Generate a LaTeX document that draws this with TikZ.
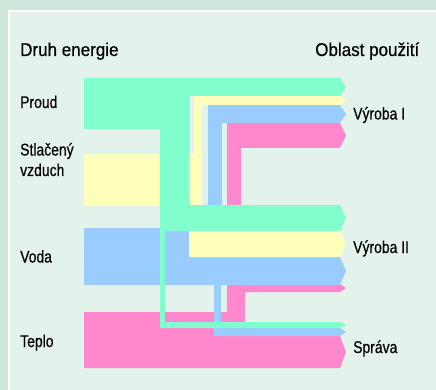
\documentclass[tikz,border=0pt]{standalone}
\usepackage{fontspec}
\setmainfont{Liberation Sans}[FakeStretch=0.82, FakeBold=0.5]
\newfontfamily\headfont{Liberation Sans}[FakeStretch=0.92, FakeBold=0.5]
\usepackage{tikz}
\usetikzlibrary{positioning}

\definecolor{okraj}{RGB}{204,230,218}
\definecolor{plocha}{RGB}{228,242,236}
\definecolor{proudc}{RGB}{128,255,204}
\definecolor{vzduchc}{RGB}{255,255,187}
\definecolor{vodac}{RGB}{153,204,255}
\definecolor{teploc}{RGB}{255,136,204}

% band running to the right edge, with a chevron tip
\newcommand{\flowband}[4]{%
  \fill[#1] (#2,#3) -- (340,#3) -- (346,{(#3+#4)/2}) -- (340,#4) -- (#2,#4) -- cycle;}

\begin{document}
\begin{tikzpicture}[x=1pt, y=-1pt]
\tikzstyle{heading}=[font=\headfont\fontsize{18.5}{21}\selectfont, inner sep=0pt]
\tikzstyle{source}=[font=\fontsize{17}{20.5}\selectfont, inner sep=0pt,
  align=left]
\tikzstyle{target}=[font=\fontsize{17}{20.5}\selectfont, inner sep=0pt]

% frame
\useasboundingbox (0,0) rectangle (436,390);
\fill[okraj] (0,0) rectangle (436,390);
\fill[white] (8,10) rectangle (436,390);
\fill[plocha] (10,12) rectangle (436,390);

% teplo
\fill[teploc] (84,312) rectangle (245,336);
\flowband{teploc}{84}{336}{368}
\fill[teploc] (227,284) rectangle (245,312);
\flowband{teploc}{227}{284}{292}
\fill[teploc] (227,123) rectangle (241,290);
\flowband{teploc}{227}{123}{148}

% voda
\fill[vodac] (84,228) rectangle (340,257);
\flowband{vodac}{84}{257}{285}
\fill[vodac] (208,105) rectangle (222,228);
\flowband{vodac}{208}{105}{123}
\fill[vodac] (214,285) rectangle (221,336);
\flowband{vodac}{214}{328}{336}

% stlačený vzduch
\fill[vzduchc] (84,154) rectangle (202,206);
\fill[vzduchc] (194,96) rectangle (202,154);
\flowband{vzduchc}{194}{96}{105}
\flowband{vzduchc}{189}{231}{257}

% proud
\fill[proudc] (84,78) rectangle (160,129);
\fill[proudc] (160,78) rectangle (189,231);
\flowband{proudc}{84}{78}{96}
\flowband{proudc}{160}{205}{231}
\fill[proudc] (160,231) rectangle (165,328);
\flowband{proudc}{160}{322}{328}

% headings
\node[heading, anchor=base west](druh) at (20,56){Druh energie};
\node[heading, anchor=base east](oblast) at (419.5,56){Oblast použití};

% sources
\node[source, anchor=base west](proud) at (20,108){Proud};
\node[source, anchor=base west](vzduch) at (20,176){Stlačený\\vzduch};
\node[source, anchor=base west](voda) at (20,262.5){Voda};
\node[source, anchor=base west](teplo) at (20,347){Teplo};

% targets
\node[target, anchor=base west](vyroba1) at (353,119.5){Výroba I};
\node[target, anchor=base west](vyroba2) at (353,253){Výroba II};
\node[target, anchor=base west](sprava) at (353,353){Správa};

\end{tikzpicture}
\end{document}
